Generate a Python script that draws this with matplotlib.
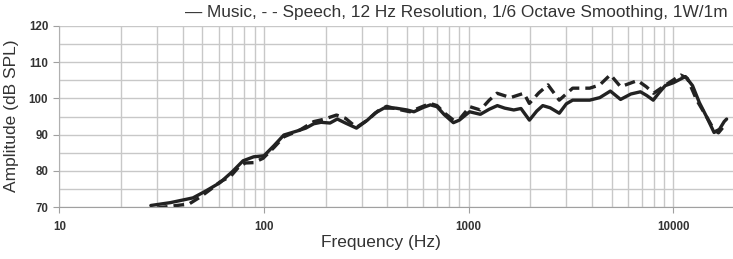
import matplotlib
matplotlib.use("Agg")
import matplotlib.pyplot as plt
from matplotlib.ticker import FixedLocator, NullFormatter, FixedFormatter

plt.rcParams['font.family'] = ['Liberation Sans', 'DejaVu Sans']

music_f = [28, 35, 45, 52, 61, 70, 79, 89, 100, 112, 125, 145, 160, 175, 190, 210, 228, 250, 283,
           320, 350, 385, 440, 500, 540, 600, 650, 700, 760, 842, 900, 1010, 1140, 1260, 1380, 1500,
           1660, 1800, 1980, 2150, 2300, 2500, 2770, 3000, 3220, 3600, 3900, 4370, 4920, 5520, 6200,
           6900, 7400, 7970, 8500, 9120, 10000, 11000, 11450, 12400, 13400, 14500, 15800, 16800,
           17700, 18200]
music_db = [70.5, 71.3, 72.6, 74.5, 76.8, 79.8, 82.8, 83.9, 84.2, 87, 89.9, 91, 91.8, 93, 93.4, 93.2,
            94.3, 93.2, 91.8, 94, 96, 97.3, 97.3, 96.8, 96.3, 97.5, 98.2, 97.7, 95.5, 93.3, 94, 96.3,
            95.6, 97, 98, 97.3, 96.8, 97.2, 94, 96.5, 98, 97.4, 95.9, 98.5, 99.5, 99.5, 99.5, 100.2,
            102, 99.7, 101.2, 101.8, 100.8, 99.5, 101.5, 103.5, 104.3, 105.5, 106, 103.5, 98.8, 95,
            90.6, 91.5, 93.6, 94.3]

speech_f = [30, 35, 43, 48.7, 55, 61, 68.6, 75, 81, 89, 99, 112, 125, 150, 175, 195, 226, 250, 283,
            320, 360, 397, 450, 516, 580, 648, 700, 760, 842, 906, 1013, 1140, 1260, 1375, 1600, 1860,
            1978, 2200, 2440, 2770, 3220, 3900, 4370, 4920, 5520, 6680, 7370, 8000, 9400, 10870,
            11700, 13000, 14500, 15800, 16600, 17700, 18200]
speech_db = [69.8, 70.3, 70.9, 72.8, 75, 77, 78.5, 81, 82.2, 82.3, 83.5, 86.5, 89.4, 91.3, 93.6, 94.2,
             95.4, 94.5, 92, 94, 96.5, 97.8, 97, 96.3, 97.5, 98.6, 98, 96, 94, 94.4, 97.7, 96.8, 99.5,
             101.4, 100.2, 101.4, 98.6, 101.5, 103.7, 99.5, 102.8, 102.8, 103.7, 106.5, 103.2, 104.9,
             103.2, 101.4, 104.1, 106.4, 105.5, 99.5, 95, 91.3, 90.5, 92.4, 92]

x_ticks = [10, 100, 1000, 10000]
x_labels = ["10", "100", "1000", "10000"]
y_ticks = [70, 80, 90, 100, 110, 120]

title = "\u2014 Music, - - Speech, 12 Hz Resolution, 1/6 Octave Smoothing, 1W/1m"

W, H = 733, 259
fig = plt.figure(figsize=(W/100, H/100), dpi=100)
ax = fig.add_axes([59.3/W, 1-207.3/H, 1-59.3/W, (207.3-25.7)/H])
ax.set_xscale('log')
ax.set_xlim(10, 19550)
ax.set_ylim(70, 120)

grid_c = '#c8c8c8'
ax.xaxis.set_major_locator(FixedLocator(x_ticks))
ax.xaxis.set_major_formatter(FixedFormatter(x_labels))
minors = [m * d for d in [10, 100, 1000, 10000] for m in range(2, 10) if m * d < 19550]
ax.xaxis.set_minor_locator(FixedLocator(minors))
ax.xaxis.set_minor_formatter(NullFormatter())
ax.yaxis.set_major_locator(FixedLocator(y_ticks))
ax.yaxis.set_minor_locator(FixedLocator([75, 85, 95, 105, 115]))

ax.grid(True, which='major', color=grid_c, lw=1.0)
ax.grid(True, which='minor', color=grid_c, lw=1.0)
ax.set_axisbelow(True)

for s in ['top', 'right']:
    ax.spines[s].set_visible(False)
ax.spines['left'].set_color('#b0b0b0')
ax.spines['bottom'].set_color('#a0a0a0')
ax.tick_params(which='major', length=4, color='#a0a0a0', labelsize=8.3, labelcolor='#333333')
ax.tick_params(axis='x', which='major', pad=6)
ax.tick_params(axis='y', which='major', pad=4)
ax.tick_params(which='minor', length=0)
for lab in ax.get_xticklabels() + ax.get_yticklabels():
    lab.set_fontweight('bold')

ax.plot(music_f, music_db, color='#222222', lw=2.4, solid_capstyle='round')
ax.plot(speech_f, speech_db, color='#222222', lw=2.4, linestyle=(0, (3.2, 1.8)))

ax.set_xlabel("Frequency (Hz)", fontsize=12.5, color='#333333')
ax.set_ylabel("Amplitude (dB SPL)", fontsize=12.5, color='#333333')
ax.xaxis.set_label_coords((381 - 59.3) / (W - 59.3), -(242 - 207.3) / (207.3 - 25.7))
ax.yaxis.set_label_coords(-(59.3 - 12) / (W - 59.3), (207.3 - 116) / (207.3 - 25.7))
ax.xaxis.label.set_va('center')
ax.yaxis.label.set_va('center')

fig.text(728/W, 1-12/H, title, ha='right', va='center', fontsize=12.4, color='#333333')

fig.savefig("out.png", dpi=100)
